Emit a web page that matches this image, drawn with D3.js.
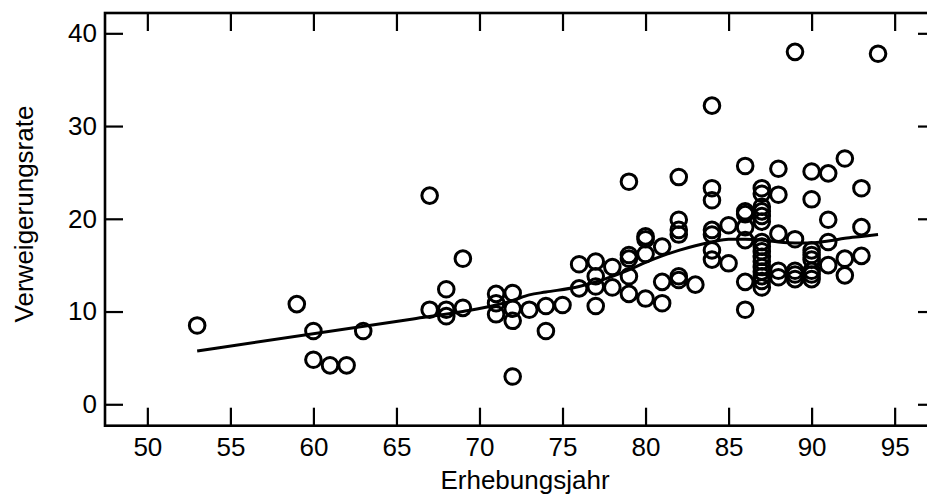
<!DOCTYPE html>
<html>
<head>
<meta charset="utf-8">
<script src="https://cdn.jsdelivr.net/npm/d3@7"></script>
<style>
  body { margin: 0; background: #fff; }
  svg { display: block; }
  text { font-family: "Liberation Sans", Arial, sans-serif; fill: #000; }
</style>
</head>
<body>
<div id="chart"></div>
<script>
// survey year (19xx) and refusal rate of each survey
var years = [
  53, 59, 60, 60, 61, 62, 63,
  67, 67, 68, 68, 68, 69, 69,
  71, 71, 71, 72, 72, 72, 72, 73, 74, 74, 75,
  76, 76, 77, 77, 77, 77, 78, 78,
  79, 79, 79, 79, 79, 80, 80, 80, 80, 81, 81, 81,
  82, 82, 82, 82, 82, 82, 83,
  84, 84, 84, 84, 84, 84, 84, 85, 85,
  86, 86, 86, 86, 86, 86, 86,
  87, 87, 87, 87, 87, 87, 87, 87, 87, 87, 87, 87, 87, 87, 87, 87,
  88, 88, 88, 88, 88,
  89, 89, 89, 89, 89,
  90, 90, 90, 90, 90, 90, 90, 90,
  91, 91, 91, 91,
  92, 92, 92,
  93, 93, 93,
  94
];
var rates = [
  8.5, 10.8, 7.9, 4.8, 4.2, 4.2, 7.9,
  22.5, 10.2, 12.4, 10.2, 9.5, 15.7, 10.4,
  11.9, 10.9, 9.7, 12.0, 10.3, 9.0, 3.0, 10.2, 10.6, 7.9, 10.7,
  15.1, 12.5, 15.4, 13.8, 12.7, 10.6, 14.8, 12.6,
  24.0, 16.1, 15.7, 13.8, 11.9, 18.1, 17.8, 16.2, 11.4, 17.0, 13.2, 10.9,
  24.5, 19.9, 18.8, 18.3, 13.8, 13.4, 12.9,
  32.2, 23.3, 22.0, 18.8, 18.3, 16.6, 15.6, 19.3, 15.2,
  25.7, 20.8, 20.5, 19.1, 17.7, 13.2, 10.2,
  23.3, 22.7, 21.3, 20.8, 20.3, 19.7, 17.5, 17.0, 16.5, 15.9, 15.4, 14.8, 14.3, 13.8, 13.3, 12.6,
  25.4, 22.6, 18.4, 14.4, 13.7,
  38.0, 17.8, 14.4, 14.0, 13.5,
  25.1, 22.1, 16.6, 16.1, 15.6, 14.4, 14.0, 13.5,
  24.9, 19.9, 17.5, 15.0,
  26.5, 15.7, 13.9,
  23.3, 19.1, 16.0,
  37.8
];

// smoothed trend line
var lineYears = [53, 66, 69, 71, 72, 73, 74, 76, 77, 78, 79, 80, 81, 82, 83, 84, 85, 86, 87, 88, 89, 90, 91, 92, 93, 94];
var lineRates = [5.75, 9.2, 10.0, 10.7, 11.2, 11.8, 12.1, 12.7, 13.2, 13.8, 14.5, 15.3, 16.0, 16.6, 17.1, 17.5, 17.8, 17.8, 17.7, 17.5, 17.4, 17.4, 17.6, 17.9, 18.1, 18.3];

var xTicks = [50, 55, 60, 65, 70, 75, 80, 85, 90, 95];
var yTicks = [0, 10, 20, 30, 40];

var width = 927, height = 495;
var plotL = 105, plotR = 936, plotT = 13, plotB = 425.7;

var svg = d3.select('#chart').append('svg')
  .attr('width', width)
  .attr('height', height);

var x = d3.scaleLinear().domain([47.45, 97.49]).range([plotL, plotR]);
var y = d3.scaleLinear().domain([-2.31, 42.19]).range([plotB, plotT]);

var tickLen = 18;

function styleAxis(g) {
  g.select('.domain').remove();
  g.selectAll('.tick line').attr('stroke', '#000').attr('stroke-width', 2.2);
  g.selectAll('.tick text').style('font-size', '26px').attr('fill', '#000');
}

svg.append('g')
  .attr('transform', 'translate(0,' + plotB + ')')
  .call(d3.axisBottom(x).tickValues(xTicks).tickSize(-tickLen).tickPadding(12))
  .call(styleAxis);

svg.append('g')
  .attr('transform', 'translate(0,' + plotT + ')')
  .call(d3.axisTop(x).tickValues(xTicks).tickSize(-tickLen).tickFormat(''))
  .call(styleAxis);

svg.append('g')
  .attr('transform', 'translate(' + plotL + ',0)')
  .call(d3.axisLeft(y).tickValues(yTicks).tickSize(-tickLen).tickPadding(8))
  .call(styleAxis);

svg.append('g')
  .attr('transform', 'translate(' + plotR + ',0)')
  .call(d3.axisRight(y).tickValues(yTicks).tickSize(-tickLen).tickFormat(''))
  .call(styleAxis);

// frame
svg.append('rect')
  .attr('x', plotL).attr('y', plotT)
  .attr('width', plotR - plotL).attr('height', plotB - plotT)
  .attr('fill', 'none')
  .attr('stroke', '#000')
  .attr('stroke-width', 2.6);

// trend line
var line = d3.line()
  .x(function(d, i) { return x(lineYears[i]); })
  .y(function(d) { return y(d); })
  .curve(d3.curveMonotoneX);

svg.append('path')
  .datum(lineRates)
  .attr('d', line)
  .attr('fill', 'none')
  .attr('stroke', '#000')
  .attr('stroke-width', 3);

// points
svg.selectAll('.pt')
  .data(rates)
  .enter()
  .append('circle')
    .attr('class', 'pt')
    .attr('cx', function(d, i) { return x(years[i]); })
    .attr('cy', function(d) { return y(d); })
    .attr('r', 7.8)
    .attr('fill', 'none')
    .attr('stroke', '#000')
    .attr('stroke-width', 3);

// axis titles
svg.append('text')
  .attr('x', 525)
  .attr('y', 489)
  .attr('text-anchor', 'middle')
  .style('font-size', '26px')
  .text('Erhebungsjahr');

svg.append('text')
  .attr('transform', 'translate(33,214) rotate(-90)')
  .attr('text-anchor', 'middle')
  .style('font-size', '26px')
  .text('Verweigerungsrate');
</script>
</body>
</html>
